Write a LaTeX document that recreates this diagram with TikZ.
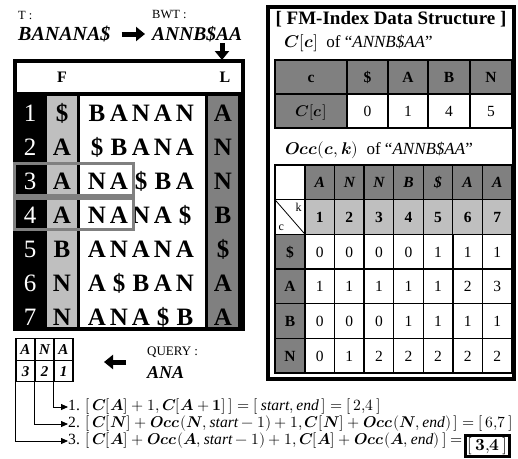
\documentclass[tikz,border=0pt]{standalone}
\usepackage{fontspec}
\usepackage{unicode-math}
\setmainfont{Liberation Serif}
\setmathfont{Latin Modern Math}
\usetikzlibrary{arrows.meta}
\definecolor{dgray}{gray}{0.5}
\definecolor{lgray}{gray}{0.75}
\newcommand\tabfont{\fontsize{15.5}{15.5}\selectfont}
\newcommand\bi[1]{\symbfit{#1}}
\begin{document}
\begin{tikzpicture}[x=1pt,y=-1pt,
  big/.style={font=\fontsize{25}{25}\selectfont\bfseries,inner sep=0pt,text height=16.5pt,text depth=0pt},
  num/.style={font=\fontsize{25}{25}\selectfont,text=white,inner sep=0pt,text height=16.5pt,text depth=0pt},
  hl/.style={draw=dgray,line width=3pt},
  blockarr/.style={line width=5pt,-{Triangle[length=9pt,width=14pt]}},
  ctab/.style={draw,line width=1.3pt,minimum height=34pt,inner sep=0pt,text height=11pt,text depth=0pt,font=\tabfont},
  otab/.style={draw,line width=1.3pt,minimum width=29.6pt,minimum height=34.7pt,inner sep=0pt,text height=11pt,text depth=0pt,font=\tabfont},
  qtab/.style={draw,line width=1.3pt,minimum width=19pt,minimum height=21.5pt,inner sep=0pt,text height=10pt,text depth=0pt,font=\fontsize{15}{15}\selectfont\bfseries\itshape},
  lab/.style={anchor=west,inner sep=0pt},
  eq/.style={anchor=west,inner sep=0pt,font=\fontsize{15.6}{15.6}\selectfont},
  link/.style={line width=0.8pt,-{Triangle[length=7pt,width=6pt]}}]
\useasboundingbox (0,0) rectangle (518,458);
% text and its BWT
\node[lab,font=\fontsize{12.5}{12.5}\selectfont] (tlab) at (18,15) {T :};
\node[lab,font=\fontsize{20}{20}\selectfont\bfseries\itshape] (txt) at (18,34) {BANANA\$};
\node[lab,font=\fontsize{12.5}{12.5}\selectfont] (bwtlab) at (152,15) {BWT :};
\node[lab,font=\fontsize{19.5}{19.5}\selectfont\bfseries\itshape] (bwt) at (152,34) {ANNB\$AA};
\draw[blockarr,shorten <=11pt,shorten >=7pt] (txt.east) -- (bwt.west);
\coordinate (dtop) at (222,43);
\coordinate (dbot) at (222,60);
\draw[blockarr] (dtop) -- (dbot);
% sorted rotations
\fill[black] (13,59) rectangle (245,331);
\fill[white] (17,63) rectangle (241,92);
\fill[lgray] (47,96) rectangle (77,327);
\fill[white] (80,96) rectangle (205,327);
\fill[dgray] (208,96) rectangle (238,327);
\node[font=\fontsize{16}{16}\selectfont\bfseries] (fhead) at (62,77) {F};
\node[font=\fontsize{16}{16}\selectfont\bfseries] (lhead) at (225,77) {L};
\foreach \r/\f/\l/\a/\b/\c/\d/\e in {1/\$/A/B/A/N/A/N, 2/A/N/\$/B/A/N/A, 3/A/N/N/A/\$/B/A,
  4/A/B/N/A/N/A/\$, 5/B/\$/A/N/A/N/A, 6/N/A/A/\$/B/A/N, 7/N/A/A/N/A/\$/B}{
  \node[num] (n\r) at (30,{113+34*(\r-1)}) {\r};
  \node[big] (f\r) at (62,{113+34*(\r-1)}) {\f};
  \node[big] (l\r) at (223,{113+34*(\r-1)}) {\l};
  \foreach \ch [count=\j] in {\a,\b,\c,\d,\e}
    \node[big] (m\r-\j) at ({75+22*\j},{113+34*(\r-1)}) {\ch};
}
\draw[hl] (14,163) rectangle (133,195);
\draw[hl] (14,198) rectangle (133,229);
% FM-index panel
\draw[line width=4pt] (268,7) rectangle (514,379);
\node[font=\fontsize{19}{19}\selectfont\bfseries,inner sep=0pt] (title) at (391,19) {[ FM-Index Data Structure ]};
\node[lab,font=\fontsize{17}{17}\selectfont] (clab) at (284,43) {$\bi{C}[\bi{c}]$\ \ of “\textit{ANNB\$AA}”};
\node[ctab,minimum width=72pt,fill=dgray,font=\tabfont\bfseries] (ch0) at (311,77) {c};
\node[ctab,minimum width=72pt,fill=dgray] (cv0) at (311,111) {$\bi{C}[\bi{c}]$};
\foreach \x/\w/\ch/\v [count=\i] in {367.5/41/\$/0, 408/40/A/1, 449/42/B/4, 491/42/N/5}{
  \node[ctab,minimum width=\w pt,fill=dgray,font=\tabfont\bfseries] (ch\i) at (\x,77) {\ch};
  \node[ctab,minimum width=\w pt] (cv\i) at (\x,111) {\v};
}
\node[lab,font=\fontsize{17}{17}\selectfont] (olab) at (285,150) {$\bi{Occ}(\bi{c},\bi{k})$\ \ of “\textit{ANNB\$AA}”};
\node[otab,minimum width=30pt] (o00) at (290,182.3) {};
\node[otab,minimum width=30pt] (o01) at (290,217) {};
\draw[line width=0.8pt] (o01.north west) -- (o01.south east);
\node[font=\fontsize{12}{12}\selectfont,inner sep=0pt] (kk) at ([shift={(-7,8)}]o01.north east) {k};
\node[font=\fontsize{12}{12}\selectfont,inner sep=0pt] (cc) at ([shift={(7,-7)}]o01.south west) {c};
\foreach \ch [count=\j] in {A,N,N,B,\$,A,A}
  \node[otab,fill=dgray,font=\tabfont\bfseries\itshape] (oh\j) at ({305+29.57*(\j-0.5)},182.3) {\ch};
\foreach \j in {1,...,7}
  \node[otab,fill=lgray,font=\tabfont\bfseries] (ok\j) at ({305+29.57*(\j-0.5)},217) {\j};
\foreach \rl/\vals [count=\r] in {\$/{0,0,0,0,1,1,1}, A/{1,1,1,1,1,2,3}, B/{0,0,0,1,1,1,1}, N/{0,1,2,2,2,2,2}}{
  \node[otab,minimum width=30pt,fill=dgray,font=\tabfont\bfseries] (or\r) at (290,{165+34.67*(\r+1.5)}) {\rl};
  \foreach \v [count=\j] in \vals
    \node[otab] (o\r-\j) at ({305+29.57*(\j-0.5)},{165+34.67*(\r+1.5)}) {\v};
}
% query
\node[qtab] (q1) at (25.5,349.5) {A};
\node[qtab] (q2) at (44.5,349.5) {N};
\node[qtab] (q3) at (63.5,349.5) {A};
\node[qtab] (p1) at (25.5,371) {3};
\node[qtab] (p2) at (44.5,371) {2};
\node[qtab] (p3) at (63.5,371) {1};
\coordinate (lstart) at (126,362);
\coordinate (lend) at (104,362);
\draw[blockarr] (lstart) -- (lend);
\node[lab,font=\fontsize{13}{13}\selectfont] (qlab) at (147,352) {QUERY :};
\node[lab,font=\fontsize{18}{18}\selectfont\bfseries\itshape] (qry) at (147,373) {ANA};
% backward search steps
\node[eq] (eq1) at (68,407) {1. $[\,\bi{C}[\bi{A}]+1,\bi{C}[\bi{A}+\symbf{1}]\,]=[\,\mathit{start},\mathit{end}\,]=[\,2{,}4\,]$};
\node[eq] (eq2) at (68,424) {2. $[\,\bi{C}[\bi{N}]+\bi{Occ}(\bi{N},\mathit{start}-1)+1,\bi{C}[\bi{N}]+\bi{Occ}(\bi{N},\mathit{end})\,]=[\,6{,}7\,]$};
\node[eq] (eq3) at (68,441) {3. $[\,\bi{C}[\bi{A}]+\bi{Occ}(\bi{A},\mathit{start}-1)+1,\bi{C}[\bi{A}]+\bi{Occ}(\bi{A},\mathit{end})\,]=$};
\node[draw,line width=3pt,inner sep=2pt,anchor=west,font=\fontsize{17}{17}\selectfont] (ans) at ([xshift=1pt,yshift=-5pt]eq3.east) {$\symbf{[\,3{,}4\,]}$};
\draw[link] (p3.south west) |- (eq1.west);
\draw[link] (p2.south west) |- (eq2.west);
\draw[link] (p1.south west) |- (eq3.west);
\end{tikzpicture}
\end{document}
